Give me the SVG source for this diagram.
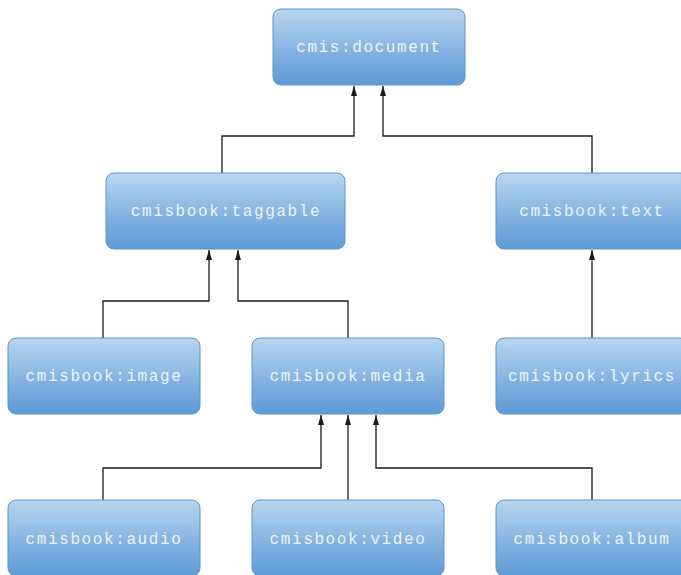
<svg xmlns="http://www.w3.org/2000/svg" width="681" height="575" viewBox="0 0 681 575">
<defs>
<linearGradient id="g" x1="0" y1="0" x2="0" y2="1">
<stop offset="0" stop-color="#b9d6f0"/>
<stop offset="0.6" stop-color="#7fb0e0"/>
<stop offset="1" stop-color="#5f9bd6"/>
</linearGradient>
<marker id="ah" markerWidth="10" markerHeight="6" refX="10" refY="3" orient="auto" markerUnits="userSpaceOnUse" viewBox="0 0 10 6">
<path d="M0,0 L10,3 L0,6 z" fill="#1a1a1a"/>
</marker>
<style>
.box{fill:url(#g);stroke:#5a95cf;stroke-width:1}
.lbl{font-family:"Liberation Mono","Courier New",monospace;font-size:16px;letter-spacing:1.6px;fill:#eef4fb;text-anchor:middle;dominant-baseline:central}
.c{fill:none;stroke:#1a1a1a;stroke-width:1.3;marker-end:url(#ah)}
</style>
</defs>
<rect width="681" height="575" fill="#ffffff"/>
<g id="connectors">
<path class="c" d="M222,173 V136 H354 V86"/>
<path class="c" d="M592,173 V136 H383 V86"/>
<path class="c" d="M103,338 V301 H209 V250"/>
<path class="c" d="M348,338 V301 H238 V250"/>
<path class="c" d="M592,338 V250"/>
<path class="c" d="M103,500 V468 H321 V415"/>
<path class="c" d="M348,500 V415"/>
<path class="c" d="M592,500 V468 H376 V415"/>
</g>
<g id="document"><rect class="box" x="273" y="9" width="192" height="76" rx="8"/><text class="lbl" x="369" y="48">cmis:document</text></g>
<g id="taggable"><rect class="box" x="106" y="173" width="239" height="76" rx="8"/><text class="lbl" x="226" y="212">cmisbook:taggable</text></g>
<g id="text"><rect class="box" x="496" y="173" width="192" height="76" rx="8"/><text class="lbl" x="592" y="212">cmisbook:text</text></g>
<g id="image"><rect class="box" x="8" y="338" width="192" height="76" rx="8"/><text class="lbl" x="104" y="377">cmisbook:image</text></g>
<g id="media"><rect class="box" x="252" y="338" width="192" height="76" rx="8"/><text class="lbl" x="348" y="377">cmisbook:media</text></g>
<g id="lyrics"><rect class="box" x="496" y="338" width="192" height="76" rx="8"/><text class="lbl" x="592" y="377">cmisbook:lyrics</text></g>
<g id="audio"><rect class="box" x="8" y="500" width="192" height="76" rx="8"/><text class="lbl" x="104" y="540">cmisbook:audio</text></g>
<g id="video"><rect class="box" x="252" y="500" width="192" height="76" rx="8"/><text class="lbl" x="348" y="540">cmisbook:video</text></g>
<g id="album"><rect class="box" x="496" y="500" width="192" height="76" rx="8"/><text class="lbl" x="592" y="540">cmisbook:album</text></g>
</svg>
